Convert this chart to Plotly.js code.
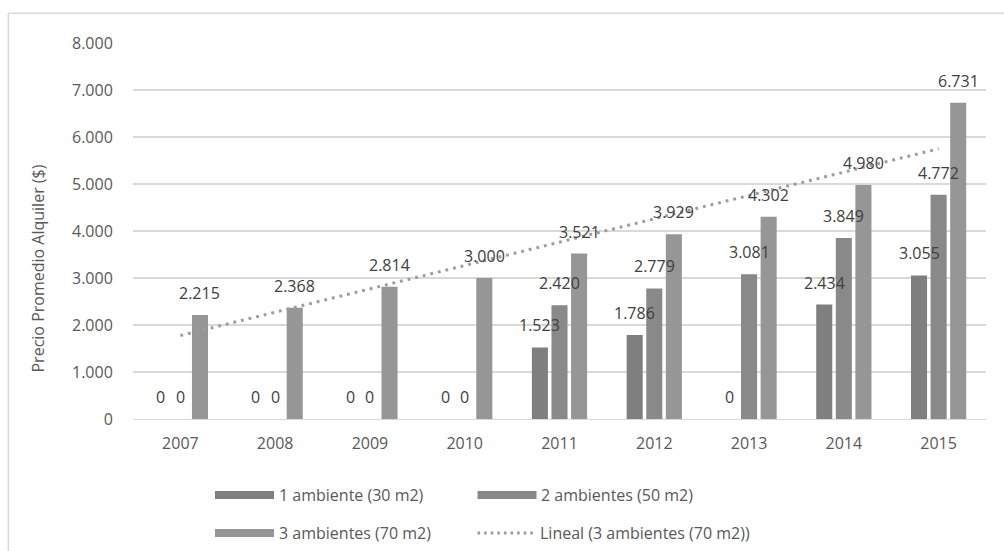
<!DOCTYPE html>
<html>
<head>
<meta charset="utf-8">
<script src="https://cdn.plot.ly/plotly-3.0.1.min.js"></script>
<style>html,body{margin:0;padding:0;background:#fff;}#chart{width:1004px;height:551px;}</style>
</head>
<body>
<div id="chart"></div>
<script>
// ---- Data ----
const years = ['2007','2008','2009','2010','2011','2012','2013','2014','2015'];
const seriesNames = ['1 ambiente (30 m2)','2 ambientes (50 m2)','3 ambientes (70 m2)'];
const amb1 = [0, 0, 0, 0, 1523, 1786, 0, 2434, 3055];
const amb2 = [0, 0, 0, 0, 2420, 2779, 3081, 3849, 4772];
const amb3 = [2215, 2368, 2814, 3000, 3521, 3929, 4302, 4980, 6731];
const trendName = 'Lineal (3 ambientes (70 m2))';
const yTicks = [0,1000,2000,3000,4000,5000,6000,7000,8000];

// ---- Styles / layout constants ----
const W = 1004, H = 551;
const M = {l:133, r:18, t:43, b:132};
const plotW = W - M.l - M.r, plotH = H - M.t - M.b;
const colors = ['#7F7F7F','#898989','#969696'];
const trendColor = '#9C9C9C';
const FONT = '"Open Sans", sans-serif';
const bargap = 0.38, bargroupgap = 0.18;

function fmt(v){ return String(Math.round(v)).replace(/\B(?=(\d{3})+(?!\d))/g,'.'); }
function px2x(px){ return (px - M.l)/plotW; }
function py2y(py){ return (H - M.b - py)/plotH; }

// Linear trendline (least squares, as Excel's "Lineal")
const n = amb3.length;
const xs = amb3.map((_,i)=>i+1);
const mx = xs.reduce((a,b)=>a+b,0)/n, my = amb3.reduce((a,b)=>a+b,0)/n;
let sxy=0, sxx=0;
xs.forEach((x,i)=>{ sxy += (x-mx)*(amb3[i]-my); sxx += (x-mx)*(x-mx); });
const slope = sxy/sxx, icpt = my - slope*mx;
const trendX = [years[0], years[n-1]];
const trendY = [icpt + slope*1, icpt + slope*n];

const series = [amb1, amb2, amb3];
const traces = series.map((vals, k) => ({
  type:'bar', x: years, y: vals, name: seriesNames[k],
  marker:{color: colors[k], line:{width:0}},
  showlegend:false, hoverinfo:'skip'
}));
traces.push({
  type:'scatter', mode:'lines', x: trendX, y: trendY, name: trendName,
  line:{color: trendColor, width:3, dash:'2.8px,5px'},
  showlegend:false, hoverinfo:'skip'
});

// Data labels above each bar
const slot = (1 - bargap)/3;
const annotations = [];
series.forEach((vals, k) => {
  vals.forEach((v, i) => {
    annotations.push({
      x: i + (k-1)*slot, y: v, xref:'x', yref:'y',
      text: fmt(v), showarrow:false, yshift: 22, yanchor:'middle', xanchor:'center',
      font:{family:FONT, size:16, color:'#404040'}
    });
  });
});
// Y axis title
annotations.push({
  xref:'paper', yref:'paper', x: px2x(37.5), y: py2y(269),
  text:'Precio Promedio Alquiler ($)', textangle:-90, showarrow:false,
  xanchor:'center', yanchor:'middle', font:{family:FONT, size:16, color:'#595959'}
});

// Custom legend
const shapes = [];
const legendItems = [
  {name: seriesNames[0], kind:'bar', color: colors[0], sx:215, sw:59, row:495},
  {name: seriesNames[1], kind:'bar', color: colors[1], sx:477.5, sw:59, row:495},
  {name: seriesNames[2], kind:'bar', color: colors[2], sx:215, sw:59, row:533},
  {name: trendName, kind:'line', color: trendColor, sx:477.5, sw:58, row:533}
];
legendItems.forEach(it => {
  if (it.kind === 'bar') {
    shapes.push({type:'rect', xref:'paper', yref:'paper',
      x0: px2x(it.sx), x1: px2x(it.sx+it.sw), y0: py2y(it.row+4), y1: py2y(it.row-4),
      fillcolor: it.color, line:{width:0}});
  } else {
    shapes.push({type:'line', xref:'paper', yref:'paper',
      x0: px2x(it.sx), x1: px2x(it.sx+it.sw), y0: py2y(it.row), y1: py2y(it.row),
      line:{color: it.color, width:2.8, dash:'2.6px,4px'}});
  }
  annotations.push({xref:'paper', yref:'paper', x: px2x(it.sx+it.sw+2.5), y: py2y(it.row),
    text: it.name, showarrow:false, xanchor:'left', yanchor:'middle',
    font:{family:FONT, size:16, color:'#595959'}});
});
// Chart border (top and left visible)
shapes.push({type:'line', xref:'paper', yref:'paper', x0:px2x(8.3), x1:px2x(1010), y0:py2y(13.3), y1:py2y(13.3), line:{color:'#D9D9D9', width:1.5}});
shapes.push({type:'line', xref:'paper', yref:'paper', x0:px2x(8.3), x1:px2x(8.3), y0:py2y(13.3), y1:py2y(560), line:{color:'#D9D9D9', width:1.5}});

const layout = {
  width: W, height: H,
  margin: M,
  paper_bgcolor:'#fff', plot_bgcolor:'#fff',
  separators: ',.',
  barmode:'group', bargap: bargap, bargroupgap: bargroupgap,
  font:{family:FONT, size:16, color:'#595959'},
  showlegend:false,
  xaxis:{type:'category', categoryorder:'array', categoryarray: years,
    showgrid:false, showline:true, linecolor:'#D9D9D9', linewidth:1.3,
    ticks:'outside', ticklen:9, tickcolor:'rgba(0,0,0,0)',
    tickfont:{family:FONT, size:16, color:'#595959'}, fixedrange:true},
  yaxis:{range:[0,8000], tickvals: yTicks, ticktext: yTicks.map(fmt),
    showgrid:true, gridcolor:'#D9D9D9', gridwidth:1.3, zeroline:false, showline:false,
    ticks:'outside', ticklen:16, tickcolor:'rgba(0,0,0,0)',
    tickfont:{family:FONT, size:16, color:'#595959'}, fixedrange:true},
  annotations: annotations,
  shapes: shapes
};

Plotly.newPlot('chart', traces, layout, {staticPlot:true, displayModeBar:false});
</script>
</body>
</html>
